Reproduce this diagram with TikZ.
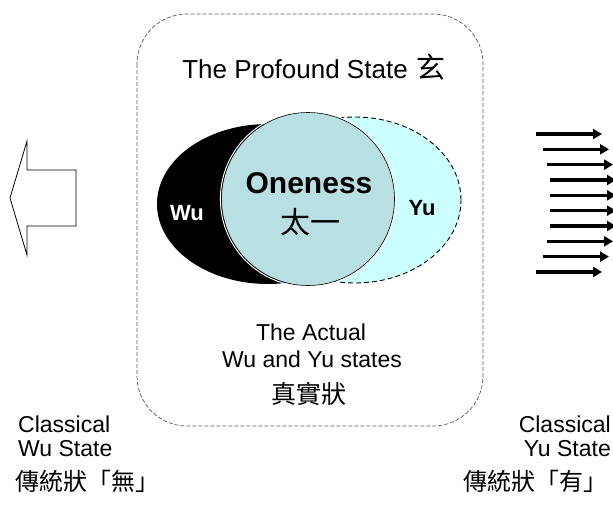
\documentclass[tikz,border=0pt]{standalone}
\usepackage{fontspec}
\setmainfont{Liberation Sans}
\newfontfamily\cjk{Noto Sans CJK TC}
\usetikzlibrary{arrows.meta,shapes.geometric}
\definecolor{yucyan}{HTML}{CCFFFF}
\definecolor{onefill}{HTML}{B8DFE1}
\tikzset{
  frame/.style={draw=black!65, line width=0.7pt, dash pattern=on 4pt off 2pt, rounded corners=50pt},
  fan/.style={line width=3.2pt, -{Triangle[length=9pt,width=10pt]}},
  lbl/.style={inner sep=0pt, font=\fontsize{23}{23}\selectfont, anchor=base},
  hanzi/.style={inner sep=0pt, font=\cjk\fontsize{24}{24}\selectfont},
}
\begin{document}
\begin{tikzpicture}[x=1pt,y=-1pt]
\useasboundingbox (0,0) rectangle (613,504);

% dashed frame of the profound state
\draw[frame] (137,14) rectangle (483,426);
\node[inner sep=0pt, anchor=base, font=\fontsize{26}{26}\selectfont] (profound) at (314,78)
  {The Profound State\hspace{9pt}{\cjk\fontsize{29}{29}\selectfont 玄}};

% Wu / Yu / Oneness
\node[ellipse, draw=black, line width=0.9pt, dash pattern=on 5pt off 3pt, fill=yucyan,
      minimum width=212pt, minimum height=166pt, inner sep=0pt] (yu) at (355,200) {};
\node[ellipse, fill=black, minimum width=222pt, minimum height=160pt, inner sep=0pt] (wu) at (268,204) {};
\draw[white, line width=1pt] (308,199) circle (87.6pt);
\node[circle, draw=black, line width=0.6pt, fill=onefill, minimum size=173pt, inner sep=0pt] (one) at (308,199) {};
\node[inner sep=0pt, anchor=base, font=\bfseries\fontsize{30}{30}\selectfont] (onetxt) at (309,193) {Oneness};
\node[hanzi, font=\cjk\fontsize{30}{30}\selectfont] (taiyi) at (310,222) {太一};
\node[inner sep=0pt, anchor=base, text=white, font=\bfseries\fontsize{22}{22}\selectfont] (wutxt) at (187,220) {Wu};
\node[inner sep=0pt, anchor=base, font=\bfseries\fontsize{22}{22}\selectfont] (yutxt) at (422,215) {Yu};

% actual states
\node[lbl] (actual1) at (311,340) {The Actual};
\node[lbl] (actual2) at (312,367) {Wu and Yu states};
\node[hanzi, font=\cjk\fontsize{25}{25}\selectfont] (actual3) at (309,394) {真實狀};

% classical Wu state: hollow arrow pointing left
\draw[line width=0.8pt, line join=miter] (10,198) -- (27,141) -- (27,170) -- (76,170)
  -- (76,226) -- (27,226) -- (27,255) -- cycle;
\node[lbl, anchor=base west] (cw1) at (18,432) {Classical};
\node[lbl, anchor=base west] (cw2) at (18,456) {Wu State};
\node[hanzi, anchor=west] (cw3) at (15,481) {傳統狀「無」};

% classical Yu state: bundle of arrows pointing right
\foreach \i/\xs in {0/536,1/543,2/547,3/550,4/550,5/550,6/550,7/547,8/543,9/536}{
  \coordinate (s\i) at (\xs,134+15.33*\i);
  \coordinate (e\i) at (\xs+66,134+15.33*\i);
  \draw[fan] (s\i) -- (e\i);
}
\node[lbl, anchor=base east] (cy1) at (611,432) {Classical};
\node[lbl, anchor=base east] (cy2) at (611,456) {Yu State};
\node[hanzi, anchor=east] (cy3) at (608,481) {傳統狀「有」};
\end{tikzpicture}
\end{document}
